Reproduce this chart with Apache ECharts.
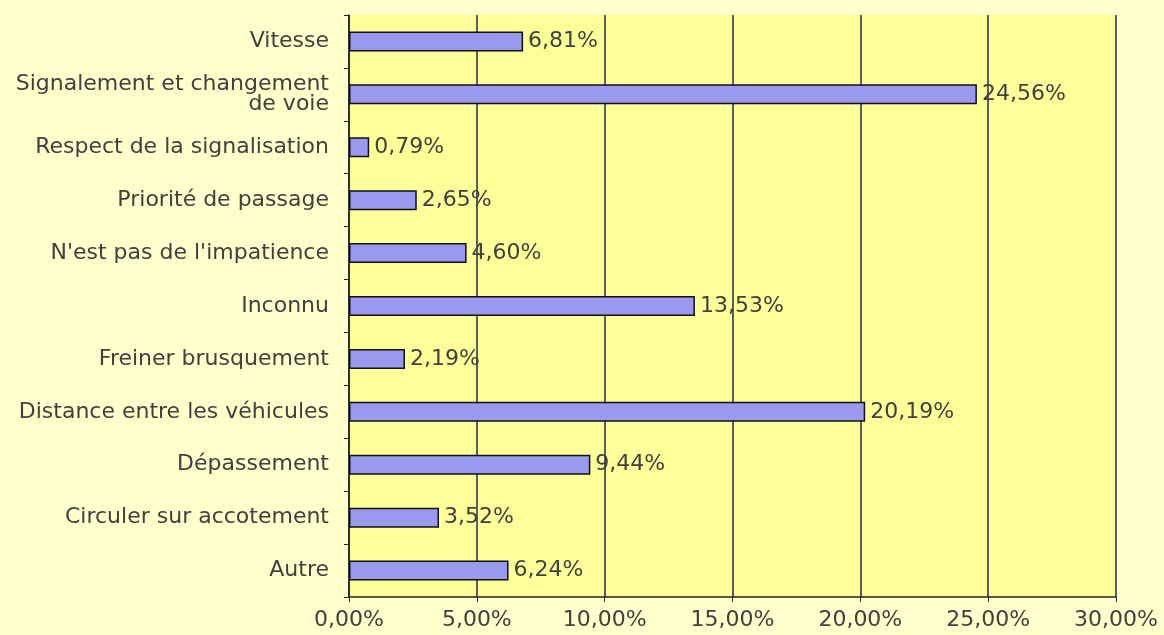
<!DOCTYPE html>
<html>
<head>
<meta charset="utf-8">
<script src="https://cdn.jsdelivr.net/npm/echarts@6/dist/echarts.min.js"></script>
<style>
html,body{margin:0;padding:0;background:#ffffcc;}
#chart{width:1164px;height:635px;}
</style>
</head>
<body>
<div id="chart"></div>
<script>
var categories = ["Vitesse", "Signalement et changement\nde voie", "Respect de la signalisation", "Priorité de passage", "N'est pas de l'impatience", "Inconnu", "Freiner brusquement", "Distance entre les véhicules", "Dépassement", "Circuler sur accotement", "Autre"];
var values = [6.81, 24.56, 0.79, 2.65, 4.60, 13.53, 2.19, 20.19, 9.44, 3.52, 6.24];
var xTicks = [0, 5, 10, 15, 20, 25, 30];

function fmt(v){ return v.toFixed(2).replace('.', ',') + '%'; }

var chart = echarts.init(document.getElementById('chart'));
chart.setOption({
  backgroundColor: '#ffffcc',
  textStyle: { fontFamily: 'DejaVu Sans, sans-serif' },
  grid: { left: 349, right: 48, top: 15, bottom: 38, show: true, backgroundColor: '#ffff99', borderWidth: 0 },
  xAxis: {
    type: 'value', min: xTicks[0], max: xTicks[xTicks.length-1], interval: 5,
    axisLine: { show: true, lineStyle: { color: '#222', width: 1.5 } },
    axisTick: { show: true, length: 5, lineStyle: { color: '#222' } },
    axisLabel: { formatter: fmt, color: '#404040', fontSize: 22, margin: 12 },
    splitLine: { show: true, lineStyle: { color: '#1c2c48', width: 1.5 } }
  },
  yAxis: {
    type: 'category', data: categories, inverse: true,
    axisLine: { show: true, lineStyle: { color: '#222', width: 1.5 } },
    axisTick: { show: true, length: 5, lineStyle: { color: '#222' } },
    axisLabel: { color: '#404040', fontSize: 22, margin: 20, lineHeight: 20, align: 'right' },
    splitLine: { show: false }
  },
  series: [{
    type: 'bar', data: values, barWidth: 20,
    itemStyle: { color: '#9999ee', borderColor: '#111', borderWidth: 1.5 },
    label: { show: true, position: 'right', distance: 5, color: '#404040', fontSize: 22, formatter: function(p){ return fmt(p.value); } }
  }]
});
</script>
</body>
</html>
